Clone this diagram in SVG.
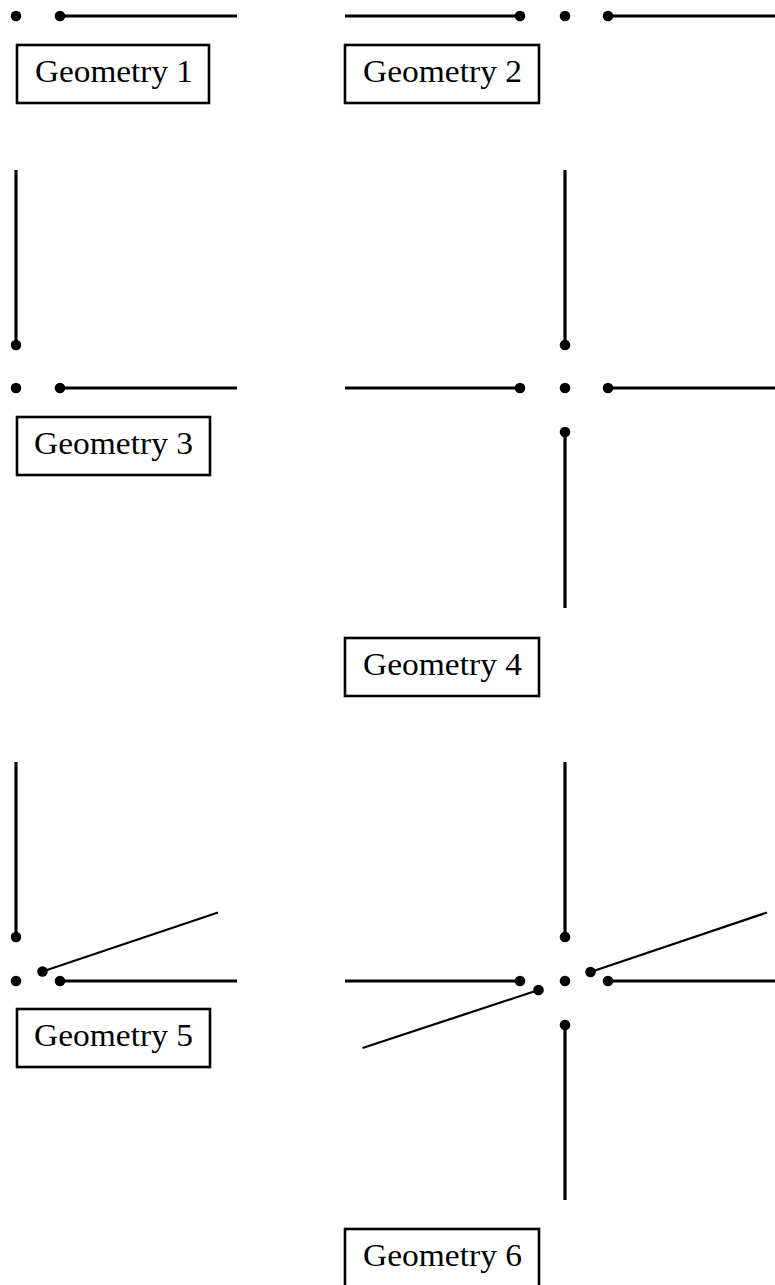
<svg xmlns="http://www.w3.org/2000/svg" width="775" height="1285" viewBox="0 0 775 1285">
<style>
.seg{stroke:#000;stroke-width:3.2;fill:none;stroke-linecap:butt}
.diag{stroke:#000;stroke-width:2.2;fill:none}
.dot{fill:#000}
.box{fill:#fff;stroke:#000;stroke-width:2.6}
.lbl{font-family:"Liberation Serif","DejaVu Serif",serif;font-size:32px;fill:#000}
</style>
<rect width="775" height="1285" fill="#fff"/>
<g id="connectors">
  <line class="seg" x1="60" y1="16" x2="237" y2="16"/>
  <line class="seg" x1="345" y1="16" x2="520" y2="16"/>
  <line class="seg" x1="608" y1="16" x2="775" y2="16"/>
  <line class="seg" x1="16" y1="170" x2="16" y2="345"/>
  <line class="seg" x1="60" y1="388" x2="237" y2="388"/>
  <line class="seg" x1="565" y1="170" x2="565" y2="345"/>
  <line class="seg" x1="345" y1="388" x2="520" y2="388"/>
  <line class="seg" x1="608" y1="388" x2="775" y2="388"/>
  <line class="seg" x1="565" y1="432" x2="565" y2="608"/>
  <line class="seg" x1="16" y1="762" x2="16" y2="937"/>
  <line class="seg" x1="60" y1="981" x2="237" y2="981"/>
  <line class="diag" x1="42.5" y1="971.5" x2="218" y2="912.5"/>
  <line class="seg" x1="565" y1="762" x2="565" y2="937"/>
  <line class="seg" x1="345" y1="981" x2="520" y2="981"/>
  <line class="seg" x1="608" y1="981" x2="775" y2="981"/>
  <line class="seg" x1="565" y1="1025" x2="565" y2="1200"/>
  <line class="diag" x1="590.5" y1="972" x2="767" y2="912.5"/>
  <line class="diag" x1="538.5" y1="990" x2="362.5" y2="1048"/>
</g>
<g id="dots">
  <circle class="dot" cx="16" cy="16" r="5.3"/>
  <circle class="dot" cx="60" cy="16" r="5.3"/>
  <circle class="dot" cx="520" cy="16" r="5.3"/>
  <circle class="dot" cx="565" cy="16" r="5.3"/>
  <circle class="dot" cx="608" cy="16" r="5.3"/>
  <circle class="dot" cx="16" cy="345" r="5.3"/>
  <circle class="dot" cx="16" cy="388" r="5.3"/>
  <circle class="dot" cx="60" cy="388" r="5.3"/>
  <circle class="dot" cx="565" cy="345" r="5.3"/>
  <circle class="dot" cx="520" cy="388" r="5.3"/>
  <circle class="dot" cx="565" cy="388" r="5.3"/>
  <circle class="dot" cx="608" cy="388" r="5.3"/>
  <circle class="dot" cx="565" cy="432" r="5.3"/>
  <circle class="dot" cx="16" cy="937" r="5.3"/>
  <circle class="dot" cx="16" cy="981" r="5.3"/>
  <circle class="dot" cx="60" cy="981" r="5.3"/>
  <circle class="dot" cx="42.5" cy="971.5" r="5.3"/>
  <circle class="dot" cx="565" cy="937" r="5.3"/>
  <circle class="dot" cx="520" cy="981" r="5.3"/>
  <circle class="dot" cx="565" cy="981" r="5.3"/>
  <circle class="dot" cx="608" cy="981" r="5.3"/>
  <circle class="dot" cx="565" cy="1025" r="5.3"/>
  <circle class="dot" cx="590.5" cy="972" r="5.3"/>
  <circle class="dot" cx="538.5" cy="990" r="5.3"/>
</g>
<g id="geometry1">
  <rect class="box" x="17" y="45" width="192" height="58"/>
  <text class="lbl" x="35" y="82" textLength="158" lengthAdjust="spacingAndGlyphs">Geometry 1</text>
</g>
<g id="geometry2">
  <rect class="box" x="345" y="45" width="194" height="58"/>
  <text class="lbl" x="363" y="82" textLength="159" lengthAdjust="spacingAndGlyphs">Geometry 2</text>
</g>
<g id="geometry3">
  <rect class="box" x="17" y="417" width="193" height="58"/>
  <text class="lbl" x="34" y="454" textLength="159" lengthAdjust="spacingAndGlyphs">Geometry 3</text>
</g>
<g id="geometry4">
  <rect class="box" x="345" y="638" width="194" height="58"/>
  <text class="lbl" x="363" y="675" textLength="159" lengthAdjust="spacingAndGlyphs">Geometry 4</text>
</g>
<g id="geometry5">
  <rect class="box" x="17" y="1009" width="193" height="58"/>
  <text class="lbl" x="34" y="1046" textLength="159" lengthAdjust="spacingAndGlyphs">Geometry 5</text>
</g>
<g id="geometry6">
  <rect class="box" x="345" y="1229" width="194" height="58"/>
  <text class="lbl" x="363" y="1266" textLength="159" lengthAdjust="spacingAndGlyphs">Geometry 6</text>
</g>
</svg>
